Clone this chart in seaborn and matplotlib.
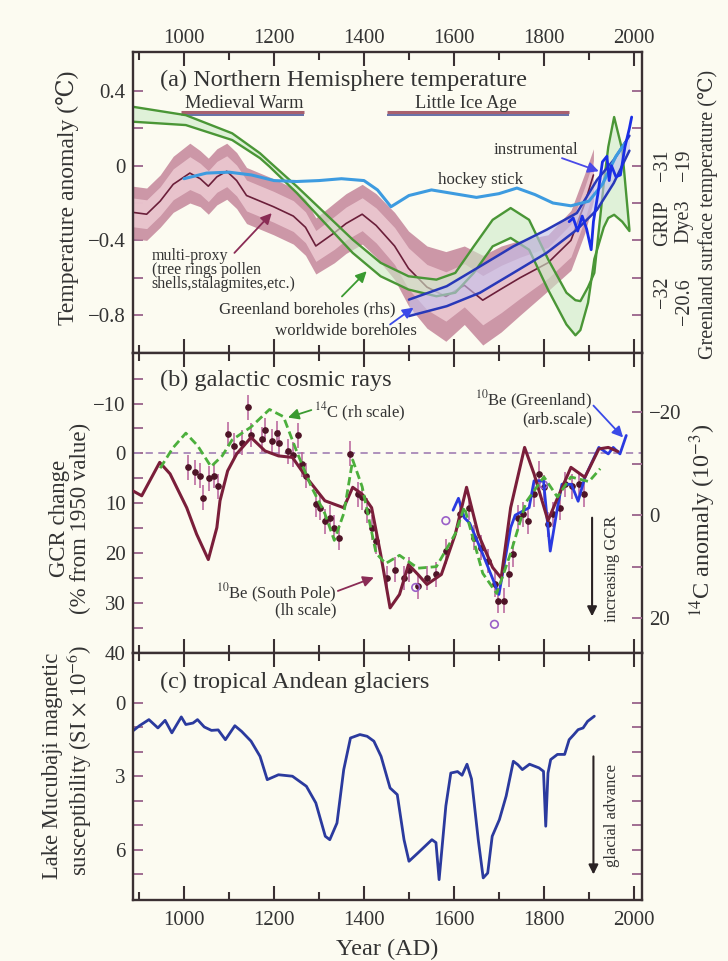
import seaborn as sns
import matplotlib.pyplot as plt
from matplotlib.ticker import FixedLocator

# ---------------- (a) Northern Hemisphere temperature ----------------
mp_years = [886, 917, 947, 976, 1013, 1036, 1054, 1073, 1095, 1117, 1139, 1169, 1199, 1243,
            1270, 1293, 1334, 1360, 1396, 1427, 1468, 1499, 1540, 1582, 1623, 1664, 1705,
            1747, 1809, 1860, 1891, 1910]
mp_center = [-0.25, -0.26, -0.19, -0.10, -0.04, -0.07, -0.11, -0.06, -0.03, -0.08, -0.16, -0.19,
             -0.22, -0.27, -0.33, -0.43, -0.36, -0.31, -0.26, -0.32, -0.43, -0.55, -0.65, -0.70,
             -0.64, -0.72, -0.66, -0.60, -0.52, -0.40, -0.20, -0.05]
mp_spread = [0.14, 0.14, 0.14, 0.15, 0.16, 0.15, 0.15, 0.15, 0.15, 0.15, 0.15, 0.15, 0.15, 0.15,
             0.15, 0.15, 0.16, 0.16, 0.16, 0.17, 0.18, 0.20, 0.22, 0.24, 0.21, 0.24, 0.23, 0.20,
             0.15, 0.16, 0.16, 0.14]

hs_years = [1000, 1050, 1100, 1150, 1200, 1250, 1300, 1350, 1400, 1430, 1460, 1500, 1550, 1600,
            1650, 1700, 1740, 1780, 1820, 1860, 1900, 1930, 1960, 1980]
hs_temp = [-0.07, -0.04, -0.035, -0.05, -0.08, -0.085, -0.08, -0.07, -0.08, -0.13, -0.22, -0.16,
           -0.13, -0.15, -0.17, -0.15, -0.12, -0.155, -0.20, -0.215, -0.19, -0.10, 0.05, 0.12]

ins_years = [1856, 1865, 1875, 1885, 1895, 1905, 1910, 1920, 1930, 1940, 1945, 1950, 1960, 1970,
             1980, 1990, 1995]
ins_temp = [-0.30, -0.28, -0.35, -0.27, -0.34, -0.45, -0.30, -0.15, 0.02, 0.05, -0.08, 0.0, -0.06,
            -0.05, 0.10, 0.20, 0.26]

gb_years = [886, 1004, 1107, 1169, 1190, 1251, 1313, 1375, 1437, 1499, 1561, 1603, 1644, 1686,
            1726, 1767, 1809, 1850, 1870, 1881, 1898, 1912, 1933, 1943, 1956, 1974, 1990]
gb_upper = [0.315, 0.27, 0.173, 0.066, 0.02, -0.112, -0.254, -0.396, -0.52, -0.592, -0.61, -0.574,
            -0.432, -0.29, -0.227, -0.29, -0.50, -0.68, -0.72, -0.725, -0.65, -0.574, -0.094,
            0.10, 0.26, 0.084, -0.343]
gb_lower = [0.235, 0.217, 0.137, 0.04, -0.005, -0.147, -0.307, -0.467, -0.592, -0.663, -0.699,
            -0.68, -0.574, -0.432, -0.387, -0.45, -0.663, -0.85, -0.908, -0.88, -0.734, -0.50,
            -0.33, -0.28, -0.263, -0.30, -0.35]

wb_years = [1500, 1584, 1658, 1732, 1806, 1873, 1918, 1955, 1990]
wb_upper = [-0.717, -0.645, -0.539, -0.432, -0.343, -0.254, -0.076, 0.03, 0.16]
wb_lower = [-0.805, -0.752, -0.68, -0.574, -0.467, -0.343, -0.236, -0.094, 0.08]

# ---------------- (b) galactic cosmic rays ----------------
sp_years = [886, 906, 946, 969, 1006, 1028, 1054, 1073, 1080, 1097, 1117, 1149, 1180, 1210, 1241,
            1272, 1313, 1355, 1375, 1396, 1417, 1437, 1458, 1479, 1499, 1520, 1540, 1572, 1603,
            1628, 1654, 1686, 1705, 1726, 1757, 1778, 1809, 1830, 1860, 1891, 1922, 1943, 1964]
sp_gcr = [7.5, 8.5, 1.8, 4.1, 10.9, 16.2, 21.3, 14.9, 9.5, 3.5, 0.1, -3.2, -0.5, 0.5, 0.8, 4.8, 9.5,
          10.9, 6.8, 8.2, 10.9, 20.2, 31.0, 28.3, 22.3, 24.3, 26.3, 24.3, 16.2, 6.8, 16.2, 22.9,
          25.0, 10.9, -1.2, 4.1, 13.5, 9.0, 2.8, 4.8, -0.9, -1.2, -0.4]

c14_years = [947, 975, 1004, 1030, 1060, 1085, 1107, 1149, 1190, 1221, 1252, 1283, 1313, 1334,
             1355, 1375, 1396, 1427, 1448, 1479, 1520, 1561, 1603, 1623, 1664, 1695, 1726, 1760,
             1800, 1830, 1860, 1900, 1925]
c14_anom = [-9.1, -13.0, -15.9, -13.5, -9.4, -11.5, -14.6, -17.1, -20.5, -19.1, -12.0, -5.5, -0.3,
            4.9, -0.3, -10.7, -5.5, 7.4, 9.4, 7.8, 10.3, 10.0, 3.6, -1.6, 11.3, 15.2, 7.4, -2.5,
            -7.4, -3.5, -7.4, -6.5, -9.0]

grl_years = [1598, 1610, 1623, 1635, 1664, 1700, 1726, 1736, 1767, 1778, 1799, 1814, 1830, 1840,
             1861, 1876, 1891, 1922, 1943, 1954, 1969, 1983]
grl_gcr = [11.4, 9.0, 12.9, 14.0, 20.2, 28.3, 14.9, 12.4, 10.9, 5.5, 5.5, 19.6, 10.9, 6.2, 6.2,
           9.6, 4.8, -1.2, 0.1, -1.2, 0.1, -3.6]

dot_years = [1009, 1024, 1035, 1043, 1055, 1066, 1076, 1097, 1111, 1128, 1143, 1149, 1174, 1180,
             1195, 1206, 1212, 1232, 1242, 1253, 1262, 1272, 1293, 1303, 1313, 1324, 1334, 1344,
             1370, 1386, 1396, 1407, 1417, 1427, 1452, 1468, 1489, 1499, 1520, 1541, 1561, 1582,
             1613, 1634, 1644, 1659, 1675, 1691, 1698, 1712, 1722, 1732, 1743, 1753, 1764, 1779,
             1789, 1800, 1810, 1821, 1836, 1847, 1862, 1877, 1888]
dot_gcr = [2.8, 3.8, 4.5, 8.9, 5.0, 4.5, 6.6, -3.9, -1.5, -2.1, -9.3, -3.7, -2.8, -4.7, -2.4, -4.0,
           -2.1, -0.4, 0.3, -3.6, 2.2, 4.5, 10.2, 10.9, 13.6, 12.9, 14.9, 16.9, 0.1, 8.2, 8.8, 11.5,
           14.9, 17.6, 25.0, 23.3, 25.0, 23.3, 26.7, 25.0, 24.3, 19.6, 12.2, 10.9, 16.9, 18.9, 21.6,
           26.3, 29.6, 29.6, 24.3, 20.2, 12.9, 12.2, 13.6, 8.2, 4.1, 6.8, 14.2, 12.2, 10.9, 6.2, 6.6,
           6.2, 8.2]
ring_years = [1515, 1582, 1690, 1799]
ring_gcr = [26.9, 13.5, 34.3, 6.3]

# ---------------- (c) tropical Andean glaciers ----------------
lm_years = [885, 901, 922, 942, 958, 973, 994, 1004, 1020, 1030, 1045, 1061, 1076, 1092, 1113,
            1128, 1149, 1169, 1185, 1210, 1241, 1272, 1293, 1314, 1324, 1340, 1355, 1370, 1391,
            1407, 1422, 1438, 1458, 1474, 1489, 1500, 1520, 1551, 1560, 1567, 1582, 1593, 1608,
            1618, 1629, 1639, 1654, 1665, 1675, 1685, 1701, 1716, 1732, 1742, 1752, 1768, 1789,
            1799, 1804, 1809, 1815, 1830, 1846, 1856, 1866, 1876, 1887, 1897, 1912]
lm_susc = [1.16, 0.93, 0.68, 1.02, 0.71, 1.22, 0.57, 0.88, 0.82, 0.68, 0.98, 1.12, 1.10, 1.50,
           0.93, 1.16, 1.56, 2.18, 3.13, 2.93, 2.99, 3.40, 4.08, 5.44, 5.58, 4.90, 2.72, 1.43,
           1.29, 1.36, 1.56, 2.18, 3.47, 3.74, 5.58, 6.46, 6.12, 5.58, 5.70, 7.21, 4.20, 2.86,
           2.80, 2.95, 2.50, 3.10, 5.58, 7.14, 6.94, 5.44, 4.76, 3.80, 2.38, 2.52, 2.72, 2.50,
           2.65, 2.79, 5.03, 2.86, 2.31, 2.10, 2.10, 1.50, 1.30, 1.09, 1.02, 0.75, 0.54]

BG = '#fcfbf1'
INK = '#3a3033'
TXT = '#333333'
TICK = '#a06e92'

sns.set_theme(style='ticks')
plt.rcParams['font.family'] = ['Liberation Serif', 'DejaVu Serif', 'DejaVu Sans']
plt.rcParams['mathtext.fontset'] = 'stix'

fig = plt.figure(figsize=(7.28, 9.61), dpi=100, facecolor=BG)
ax_a = fig.add_axes([0.1823, 0.6324, 0.6996, 0.3135])
ax_b = fig.add_axes([0.1823, 0.3208, 0.6996, 0.3116], sharex=ax_a)
ax_c = fig.add_axes([0.1823, 0.0635, 0.6996, 0.2573], sharex=ax_a)


def line(ax, x, y, **kw):
    sns.lineplot(x=x, y=y, ax=ax, estimator=None, sort=False, legend=False, **kw)


def arrow(ax, tail, tip, color, lw=1.3, ms=16):
    ax.annotate('', xy=tip, xytext=tail,
                arrowprops=dict(arrowstyle='-|>', color=color, lw=lw, mutation_scale=ms,
                                shrinkA=0, shrinkB=0))


for ax in (ax_a, ax_b, ax_c):
    ax.set_facecolor(BG)
    for s in ax.spines.values():
        s.set_color(INK)
        s.set_linewidth(1.7)
    ax.xaxis.set_major_locator(FixedLocator([1000, 1200, 1400, 1600, 1800, 2000]))
    ax.xaxis.set_minor_locator(FixedLocator([900, 1100, 1300, 1500, 1700, 1900]))
    ax.tick_params(axis='x', which='both', direction='in', top=True, bottom=True,
                   color=INK, width=1.5, labelsize=15, labelcolor=TXT)
    ax.tick_params(axis='x', which='major', length=10)
    ax.tick_params(axis='x', which='minor', length=6)
    ax.tick_params(axis='y', which='both', direction='in', left=True, right=True,
                   length=7, width=1.4, color=TICK, labelsize=15, labelcolor=TXT, pad=5)
    ax.set_xlabel('')
    ax.set_ylabel('')

ax_a.set_xlim(886, 2018)
ax_a.tick_params(axis='x', labeltop=True, labelbottom=False, pad=3)
ax_b.tick_params(axis='x', labeltop=False, labelbottom=False)
ax_c.tick_params(axis='x', labeltop=False, labelbottom=True, pad=8)

# ---- panel (a)
mp_hi = [c + w for c, w in zip(mp_center, mp_spread)]
mp_lo = [c - w for c, w in zip(mp_center, mp_spread)]
mp_hi2 = [c + 0.55 * w for c, w in zip(mp_center, mp_spread)]
mp_lo2 = [c - 0.55 * w for c, w in zip(mp_center, mp_spread)]
ax_a.fill_between(mp_years, mp_lo, mp_hi, color='#c4869a', alpha=0.85, lw=0, zorder=1)
ax_a.fill_between(mp_years, mp_lo2, mp_hi2, color='#ecc8d1', alpha=0.9, lw=0, zorder=1.1)
line(ax_a, mp_years, mp_center, color='#6b1f3a', linewidth=1.2, zorder=2)

ax_a.fill_between(gb_years, gb_lower, gb_upper, color='#cdebc8', alpha=0.6, lw=0, zorder=2.2)
line(ax_a, gb_years, gb_upper, color='#4a9636', linewidth=1.7, zorder=2.5)
line(ax_a, gb_years, gb_lower, color='#4a9636', linewidth=1.7, zorder=2.5)

ax_a.fill_between(wb_years, wb_lower, wb_upper, color='#c4c2ee', alpha=0.6, lw=0, zorder=2.6)
line(ax_a, wb_years, wb_upper, color='#2838b8', linewidth=1.8, zorder=2.8)
line(ax_a, wb_years, wb_lower, color='#2838b8', linewidth=1.8, zorder=2.8)

line(ax_a, hs_years, hs_temp, color='#3d9be0', linewidth=2.2, zorder=3)
line(ax_a, ins_years, ins_temp, color='#1a2ee6', linewidth=2.0, zorder=3.2)

ax_a.set_ylim(-1.004, 0.608)
ax_a.set_yticks([-0.8, -0.4, 0, 0.4], labels=['\u22120.8', '\u22120.4', '0', '0.4'])
ax_a.yaxis.set_minor_locator(FixedLocator([-0.6, -0.2, 0.2]))

ax_a.text(947, 0.457, '(a) Northern Hemisphere temperature', fontsize=17.5, color=TXT,
          va='center')
for x0, x1 in [(993, 1267), (1452, 1855)]:
    ax_a.plot([x0, x1], [0.285, 0.285], color='#a8606e', lw=2.2, solid_capstyle='butt')
    ax_a.plot([x0, x1], [0.272, 0.272], color='#6670a8', lw=1.4, solid_capstyle='butt')
ax_a.text(1133, 0.335, 'Medieval Warm', fontsize=13.2, color=TXT, ha='center', va='center')
ax_a.text(1626, 0.335, 'Little Ice Age', fontsize=13.2, color=TXT, ha='center', va='center')

ax_a.text(1783, 0.084, 'instrumental', fontsize=12.2, color=TXT, ha='center', va='center')
arrow(ax_a, (1840, 0.04), (1922, -0.03), '#4a4ae8')
ax_a.text(1659, -0.076, 'hockey stick', fontsize=12.2, color=TXT, ha='center', va='center')
ax_a.text(928, -0.558, 'multi-proxy\n(tree rings pollen\nshells,stalagmites,etc.)',
          fontsize=11.5, color=TXT, ha='left', va='center', linespacing=0.8)
arrow(ax_a, (1112, -0.467), (1195, -0.254), '#8a2c55')
ax_a.text(1273, -0.77, 'Greenland boreholes (rhs)', fontsize=12.2, color=TXT, ha='center',
          va='center')
arrow(ax_a, (1351, -0.70), (1406, -0.565), '#3a9a30')
ax_a.text(1360, -0.887, 'worldwide boreholes', fontsize=12.2, color=TXT, ha='center',
          va='center')
arrow(ax_a, (1458, -0.85), (1510, -0.76), '#3a4ae8')

yt = ax_a.get_yaxis_transform()
for xf, yv, s in [(1.041, 0.0, '\u221231'), (1.041, -0.31, 'GRIP'), (1.041, -0.675, '\u221232'),
                  (1.083, 0.0, '\u221219'), (1.083, -0.30, 'Dye3'), (1.083, -0.73, '\u221220.6')]:
    ax_a.text(xf, yv, s, transform=yt, rotation=90, fontsize=14.5, color=TXT,
              ha='center', va='center')
ax_a.text(1.13, -0.263, 'Greenland surface temperature (\u2103)', transform=yt, rotation=90,
          fontsize=14.5, color=TXT, ha='center', va='center', clip_on=False)
ax_a.text(-0.129, 0.517, 'Temperature anomaly (\u2103)', transform=ax_a.transAxes, rotation=90,
          fontsize=17, color=TXT, ha='center', va='center')

# ---- panel (b)
ax_b.set_ylim(40, -20.1)
ax_b.set_yticks([-10, 0, 10, 20, 30, 40], labels=['\u221210', '0', '10', '20', '30', '40'])
ax_b.yaxis.set_minor_locator(FixedLocator([-15, -5, 5, 15, 25, 35]))
ax_b.tick_params(axis='y', which='both', right=False)
ax_b.axhline(0, color='#a888b8', lw=1.3, ls=(0, (4, 3)), zorder=1)

ax_b2 = ax_b.twinx()
ax_b2.set_ylim(26.7, -31.4)
for s in ax_b2.spines.values():
    s.set_visible(False)
ax_b2.set_yticks([-20, 0, 20], labels=['\u221220', '0', '20'])
ax_b2.yaxis.set_minor_locator(FixedLocator([-10, 10]))
ax_b2.tick_params(axis='y', which='both', direction='in', left=False, right=True, length=7,
                  width=1.4, color=TICK, labelsize=15, labelcolor=TXT, pad=5)
ax_b2.set_ylabel('')
line(ax_b2, c14_years, c14_anom, color='#4caf3c', linewidth=2.0, dashes=(3, 1.5), zorder=2)

ax_b.errorbar(dot_years, dot_gcr, yerr=2.5, fmt='o', ms=3.8, color='#4e1426', ecolor='#b8609a',
              elinewidth=1.1, capsize=0, zorder=3)
sns.scatterplot(x=ring_years, y=ring_gcr, ax=ax_b, s=30, facecolor='none', edgecolor='#9a60c8',
                linewidth=1.2, legend=False, zorder=3.5)
line(ax_b, grl_years, grl_gcr, color='#2a3ae0', linewidth=2.0, zorder=4)
line(ax_b, sp_years, sp_gcr, color='#7a1e3a', linewidth=2.2, zorder=4.5)

ax_b.text(947, -14.7, '(b) galactic cosmic rays', fontsize=17.5, color=TXT, va='center')
ax_b.text(1288, -8.2, r'$^{14}$C (rh scale)', fontsize=12, color=TXT, va='center')
arrow(ax_b, (1283, -8.7), (1231, -7.2), '#3a9a30')
ax_b.text(1339, 28.0, r'$^{10}$Be (South Pole)', fontsize=12, color=TXT, ha='right',
          va='center')
ax_b.text(1339, 31.6, '(lh scale)', fontsize=12, color=TXT, ha='right', va='center')
arrow(ax_b, (1342, 27.6), (1422, 24.9), '#8a2c55')
ax_b.text(1907, -10.6, r'$^{10}$Be (Greenland)', fontsize=12, color=TXT, ha='right',
          va='center')
ax_b.text(1907, -6.9, '(arb.scale)', fontsize=12, color=TXT, ha='right', va='center')
arrow(ax_b, (1910, -9.6), (1976, -3.2), '#3a4ae8')
arrow(ax_b, (1907, 12.9), (1907, 32.7), '#2a2224', lw=1.5, ms=14)
ax_b.text(1952, 23.2, 'increasing GCR', rotation=90, fontsize=12, color=TXT, ha='center',
          va='center')

ax_b.text(-0.123, 0.447, 'GCR change\n(% from 1950 value)', transform=ax_b.transAxes,
          rotation=90, fontsize=16.5, color=TXT, ha='center', va='center',
          multialignment='center', linespacing=0.95)
ax_b.text(1.12, 0.443, r'$^{14}$C anomaly (10$^{-3}$)', transform=ax_b.transAxes, rotation=90,
          fontsize=17.5, color=TXT, ha='center', va='center')

# ---- panel (c)
line(ax_c, lm_years, lm_susc, color='#2b3a9e', linewidth=2.0)
ax_c.set_ylim(8.04, -2.05)
ax_c.set_yticks([0, 3, 6], labels=['0', '3', '6'])
ax_c.yaxis.set_minor_locator(FixedLocator([1, 2, 4, 5, 7]))
ax_c.text(947, -0.82, '(c) tropical Andean glaciers', fontsize=17.5, color=TXT,
          va='center')
arrow(ax_c, (1910, 2.18), (1910, 7.0), '#2a2224', lw=1.5, ms=14)
ax_c.text(1952, 4.6, 'glacial advance', rotation=90, fontsize=12, color=TXT, ha='center',
          va='center')
ax_c.text(-0.157, 0.542, 'Lake Mucubaji magnetic', transform=ax_c.transAxes, rotation=90,
          fontsize=16.3, color=TXT, ha='center', va='center')
ax_c.text(-0.105, 0.566, r'susceptibility (SI $\times$ 10$^{-6}$)', transform=ax_c.transAxes,
          rotation=90, fontsize=16.3, color=TXT, ha='center', va='center')
ax_c.set_xlabel('Year (AD)', fontsize=17.5, color=TXT, labelpad=6)

fig.savefig('out.png', dpi=100, facecolor=BG)
